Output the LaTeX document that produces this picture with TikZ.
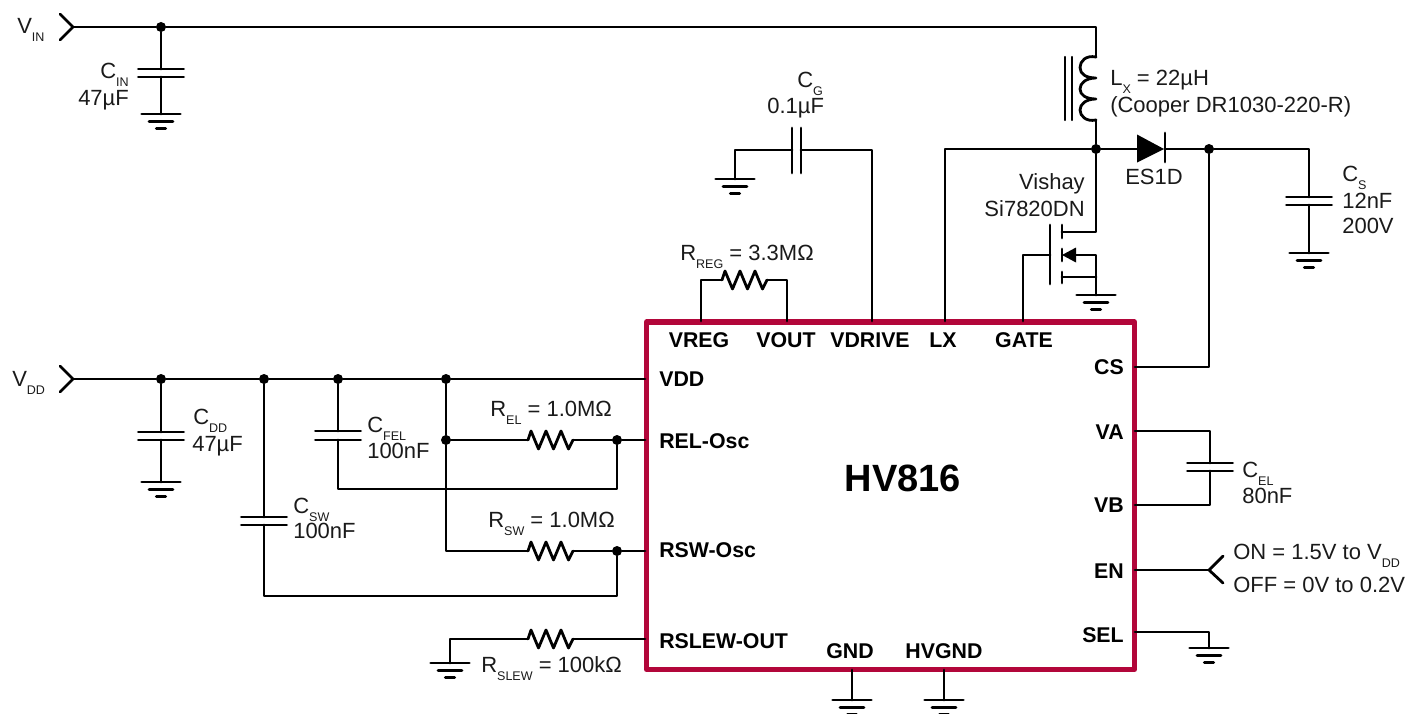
\documentclass[tikz,border=0pt]{standalone}
\usepackage{fontspec}
\setmainfont{Liberation Sans}
\definecolor{chipred}{HTML}{B2063A}
\definecolor{ink}{HTML}{1A1A1A}
\newcommand{\sbx}[1]{\raisebox{-6pt}{\fontsize{9.4pt}{10pt}\selectfont #1}}
\tikzset{
  wire/.style={line width=2.1pt,draw=black,line cap=round,line join=round},
  dot/.style={circle,fill=black,inner sep=0pt,minimum size=7.5pt},
  lab/.style={inner sep=0pt,text=ink,font=\fontsize{16.5pt}{18pt}\selectfont},
  pin/.style={inner sep=0pt,text=black,font=\fontsize{16pt}{18pt}\selectfont\bfseries},
}
% ground symbol
\newcommand{\Gnd}[3]{\coordinate (#1) at (#2,#3);
  \draw[wire] ([xshift=-14.5pt]#1) -- ([xshift=14.5pt]#1);
  \draw[wire] ([xshift=-9pt,yshift=-5.5pt]#1) -- ([xshift=9pt,yshift=-5.5pt]#1);
  \draw[wire] ([xshift=-3.5pt,yshift=-11pt]#1) -- ([xshift=3.5pt,yshift=-11pt]#1);}
% vertical-lead capacitor (horizontal plates)
\newcommand{\CapV}[4]{\coordinate (#1A) at (#2,#3);\coordinate (#1B) at (#2,#4);
  \draw[wire] ([xshift=-17pt]#1A) -- ([xshift=17pt]#1A);
  \draw[wire] ([xshift=-17pt]#1B) -- ([xshift=17pt]#1B);}
% resistor: name, x1, x2, y
\newcommand{\ResH}[4]{\coordinate (#1A) at (#2,#4);\coordinate (#1B) at (#3,#4);
  \draw[wire] (#1A) -- ++(3,-9) -- ++(7.5,18) -- ++(7.5,-18) -- ++(7.5,18) -- ++(7.5,-18) -- ++(7.5,18) -- ++(4.5,-9);}
\begin{document}
\begin{tikzpicture}[x=0.75pt,y=-0.75pt]
\useasboundingbox (0,0) rectangle (1408,713);
% chip
\node[draw=chipred,line width=3.9pt,outer sep=0pt,minimum width=366pt,minimum height=260.6pt,inner sep=0pt,anchor=north west,line join=round] (chip) at (646.5,322) {};
\node[inner sep=0pt,anchor=base,font=\fontsize{28.5pt}{30pt}\selectfont\bfseries] (name) at (903,491) {HV816};
% pin coordinates
\coordinate (pVREG) at (701,321);
\coordinate (pVOUT) at (787,321);
\coordinate (pVDRIVE) at (872,321);
\coordinate (pLX) at (945,321);
\coordinate (pGATE) at (1023,321);
\coordinate (pVDD) at (645,379);
\coordinate (pREL) at (645,440);
\coordinate (pRSW) at (645,551);
\coordinate (pSLEW) at (645,639);
\coordinate (pGND) at (852,670);
\coordinate (pHVGND) at (944,670);
\coordinate (pCS) at (1135,367);
\coordinate (pVA) at (1135,431);
\coordinate (pVB) at (1135,505);
\coordinate (pEN) at (1135,570);
\coordinate (pSEL) at (1135,632);
% pin labels
\node[pin,anchor=base] (lVREG) at (699,347) {VREG};
\node[pin,anchor=base] (lVOUT) at (786,347) {VOUT};
\node[pin,anchor=base] (lVDRIVE) at (870,347) {VDRIVE};
\node[pin,anchor=base] (lLX) at (943,347) {LX};
\node[pin,anchor=base] (lGATE) at (1024,347) {GATE};
\node[pin,anchor=base west] (lVDD) at (659,386) {VDD};
\node[pin,anchor=base west] (lREL) at (659,448) {REL-Osc};
\node[pin,anchor=base west] (lRSW) at (659,557) {RSW-Osc};
\node[pin,anchor=base west] (lSLEW) at (659,648) {RSLEW-OUT};
\node[pin,anchor=base] (lGND) at (850,658) {GND};
\node[pin,anchor=base] (lHVGND) at (944,658) {HVGND};
\node[pin,anchor=base east] (lCS) at (1124,374) {CS};
\node[pin,anchor=base east] (lVA) at (1124,439) {VA};
\node[pin,anchor=base east] (lVB) at (1124,512) {VB};
\node[pin,anchor=base east] (lEN) at (1124,578) {EN};
\node[pin,anchor=base east] (lSEL) at (1124,642) {SEL};
% VIN rail
\coordinate (vinTip) at (73,27);
\coordinate (vinU) at (60,14);
\coordinate (vinD) at (60,40);
\draw[wire] (vinU) -- (vinTip) -- (vinD);
\node[dot] (j1) at (161,27) {};
\coordinate (lTop) at (1096,57);
\coordinate (lBot) at (1096,120);
\draw[wire] (vinTip) -- (j1) -- (1096,27) -- (lTop);
\CapV{cin}{161}{69}{77}
\Gnd{gin}{161}{114}
\draw[wire] (j1) -- (cinA) (cinB) -- (gin);
% inductor
\draw[wire] (lTop) .. controls (1086,55) and (1080,61) .. (1080,67.5) .. controls (1080,74) and (1086,78) .. (1096,78)
  (1096,78) .. controls (1086,78) and (1080,83) .. (1080,89) .. controls (1080,95) and (1086,99) .. (1096,99)
  (1096,99) .. controls (1086,99) and (1080,104) .. (1080,110) .. controls (1080,116) and (1086,122) .. (lBot);
\coordinate (coreA) at (1065,57); \coordinate (coreB) at (1065,120);
\coordinate (coreC) at (1072,57); \coordinate (coreD) at (1072,120);
\draw[line width=1.6pt,line cap=round] (coreA) -- (coreB) (coreC) -- (coreD);
% switch node
\node[dot] (j2) at (1096,149) {};
\draw[wire] (lBot) -- (j2);
\draw[wire] (j2) -- (945,149) -- (pLX);
% diode
\coordinate (dA) at (1137,149);
\coordinate (dK) at (1165,149);
\fill (1137,134.5) -- (1164,149) -- (1137,162.5) -- cycle;
\draw[wire] (1165,133) -- (1165,162);
\node[dot] (j3) at (1209,149) {};
\draw[wire] (j2) -- (dA) (dK) -- (j3);
\draw[wire] (j3) |- (pCS);
% Cs
\CapV{cs}{1309}{197}{205}
\Gnd{gs}{1309}{253}
\draw[wire] (j3) -- (1309,149) -- (csA) (csB) -- (gs);
% MOSFET
\coordinate (mD) at (1062,232);
\coordinate (mS) at (1062,277);
\coordinate (mG) at (1050,255);
\coordinate (mA) at (1076,255);
\Gnd{gm}{1096}{295}
\draw[wire] (1050,225) -- (1050,284);
\draw[wire] (1062,225) -- (1062,238);
\draw[wire] (1062,272) -- (1062,283);
\draw[wire] (1062,249) -- (1062,261);
\fill (1062,255) -- (1076,247.5) -- (1076,262.5) -- cycle;
\draw[wire] (j2) |- (mD);
\draw[wire] (mA) -- (1096,255) -- (gm);
\draw[wire] (mS) -- (1096,277);
\draw[wire] (pGATE) |- (mG);
% CG
\coordinate (cgA) at (792,150);
\coordinate (cgB) at (801,150);
\draw[wire] (792,128) -- (792,173);
\draw[wire] (801,128) -- (801,173);
\Gnd{gg}{735}{179}
\draw[wire] (gg) |- (cgA);
\draw[wire] (cgB) -| (pVDRIVE);
% RREG
\ResH{rr}{722}{767}{280}
\draw[wire] (pVREG) |- (rrA);
\draw[wire] (rrB) -| (pVOUT);
% VDD rail
\coordinate (vddTip) at (73,379);
\coordinate (vddU) at (60,366);
\coordinate (vddD) at (60,392);
\draw[wire] (vddU) -- (vddTip) -- (vddD);
\node[dot] (k1) at (161,379) {};
\node[dot] (k2) at (264,379) {};
\node[dot] (k3) at (338,379) {};
\node[dot] (k4) at (446,379) {};
\draw[wire] (vddTip) -- (k1) -- (k2) -- (k3) -- (k4) -- (pVDD);
\CapV{cdd}{161}{432}{440}
\Gnd{gdd}{161}{482}
\draw[wire] (k1) -- (cddA) (cddB) -- (gdd);
\CapV{cfel}{338}{431}{440}
\CapV{csw}{264}{517}{525}
\draw[wire] (k3) -- (cfelA);
\draw[wire] (k2) -- (cswA);
\node[dot] (k5) at (446,440) {};
\node[dot] (k6) at (617,440) {};
\node[dot] (k7) at (617,551) {};
\ResH{rel}{528}{573}{440}
\ResH{rsw}{528}{573}{551}
\draw[wire] (k4) -- (k5) |- (rswA);
\draw[wire] (k5) -- (relA) (relB) -- (k6) -- (pREL);
\draw[wire] (rswB) -- (k7) -- (pRSW);
\coordinate (cfelC) at (338,489);
\coordinate (cswC) at (264,596);
\draw[wire] (cfelB) -- (cfelC) -| (k6);
\draw[wire] (cswB) -- (cswC) -| (k7);
% RSLEW
\ResH{rsl}{528}{573}{639}
\Gnd{gsl}{450}{663}
\draw[wire] (gsl) |- (rslA);
\draw[wire] (rslB) -- (pSLEW);
% bottom grounds
\Gnd{gg1}{852}{700}
\Gnd{gg2}{944}{700}
\draw[wire] (pGND) -- (gg1);
\draw[wire] (pHVGND) -- (gg2);
% CEL
\CapV{cel}{1210}{463}{471}
\draw[wire] (pVA) -| (celA);
\draw[wire] (pVB) -| (celB);
% EN
\coordinate (enTip) at (1209,570);
\coordinate (enU) at (1223,556);
\coordinate (enD) at (1223,583);
\draw[wire] (pEN) -- (enTip);
\draw[wire] (enU) -- (enTip) -- (enD);
% SEL
\Gnd{gsel}{1209}{648}
\draw[wire] (pSEL) -| (gsel);
% labels
\node[lab,anchor=base west] (tVin) at (17,34) {V\sbx{IN}};
\node[lab,anchor=base west] (tVdd) at (12,386) {V\sbx{DD}};
\node[lab,anchor=base west] (tCin) at (100,79) {C\sbx{IN}};
\node[lab,anchor=base west] (tCinv) at (78,106) {47µF};
\node[lab,anchor=base west] (tCdd) at (193,424) {C\sbx{DD}};
\node[lab,anchor=base west] (tCddv) at (192,451) {47µF};
\node[lab,anchor=base west] (tCfel) at (367,432) {C\sbx{FEL}};
\node[lab,anchor=base west] (tCfelv) at (367,458) {100nF};
\node[lab,anchor=base west] (tCsw) at (293,513) {C\sbx{SW}};
\node[lab,anchor=base west] (tCswv) at (293,538) {100nF};
\node[lab,anchor=base west] (tRel) at (490,416) {R\sbx{EL} = 1.0MΩ};
\node[lab,anchor=base west] (tRsw) at (488,527) {R\sbx{SW} = 1.0MΩ};
\node[lab,anchor=base west] (tRsl) at (481,672) {R\sbx{SLEW} = 100kΩ};
\node[lab,anchor=base west] (tRr) at (680,260) {R\sbx{REG} = 3.3MΩ};
\node[lab,anchor=base west] (tCg) at (797,88) {C\sbx{G}};
\node[lab,anchor=base west] (tCgv) at (767,114) {0.1µF};
\node[lab,anchor=base west] (tL) at (1110,86) {L\sbx{X} = 22µH};
\node[lab,anchor=base west] (tLv) at (1110,113) {(Cooper DR1030-220-R)};
\node[lab,anchor=base east] (tV1) at (1085,189) {Vishay};
\node[lab,anchor=base east] (tV2) at (1085,216) {Si7820DN};
\node[lab,anchor=base west] (tD) at (1125,185) {ES1D};
\node[lab,anchor=base west] (tCs) at (1342,181) {C\sbx{S}};
\node[lab,anchor=base west] (tCs1) at (1342,208) {12nF};
\node[lab,anchor=base west] (tCs2) at (1342,233) {200V};
\node[lab,anchor=base west] (tCel) at (1242,477) {C\sbx{EL}};
\node[lab,anchor=base west] (tCelv) at (1242,503) {80nF};
\node[lab,anchor=base west] (tOn) at (1233,559) {ON = 1.5V to V\sbx{DD}};
\node[lab,anchor=base west] (tOff) at (1233,592) {OFF = 0V to 0.2V};
\end{tikzpicture}
\end{document}
